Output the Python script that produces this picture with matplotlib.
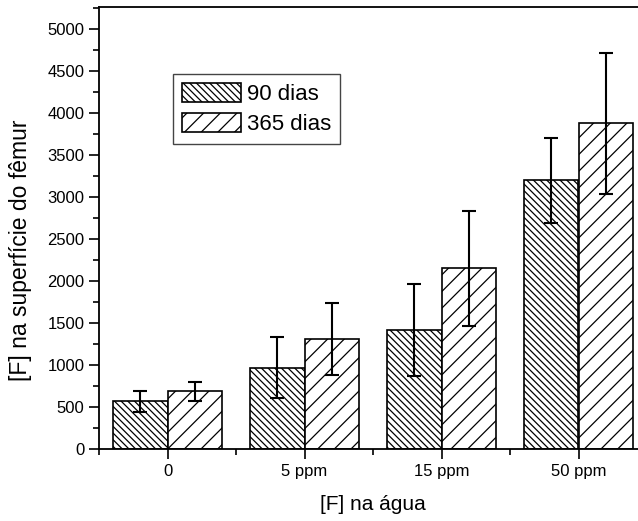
import numpy as np
import matplotlib
matplotlib.use("Agg")
import matplotlib.pyplot as plt
from matplotlib.ticker import MultipleLocator

plt.rcParams['font.family'] = ['Liberation Sans', 'DejaVu Sans']
plt.rcParams['hatch.linewidth'] = 0.9

# data
categories = ['0', '5 ppm', '15 ppm', '50 ppm']
dias90 = [570, 970, 1420, 3200]
dias90_err = [125, 360, 545, 505]
dias365 = [685, 1310, 2150, 3880]
dias365_err = [115, 430, 680, 840]

x = np.arange(len(categories))
w = 0.4

fig = plt.figure(figsize=(6.38, 5.21), dpi=100)
ax = fig.add_axes([99 / 638, 72 / 521, 548 / 638, 442 / 521])

ax.bar(x - w / 2, dias90, w, color='white', edgecolor='black', hatch='\\' * 5,
       linewidth=1.2, label='90 dias')
ax.bar(x + w / 2, dias365, w, color='white', edgecolor='black', hatch='//',
       linewidth=1.2, label='365 dias')
ax.errorbar(x - w / 2, dias90, yerr=dias90_err, fmt='none', ecolor='black',
            elinewidth=1.5, capsize=5, capthick=1.5)
ax.errorbar(x + w / 2, dias365, yerr=dias365_err, fmt='none', ecolor='black',
            elinewidth=1.5, capsize=5, capthick=1.5)

ax.set_xlim(-0.5, 3.5)
ax.set_ylim(0, 5262)
ax.set_xticks(x)
ax.set_xticklabels(categories)
ax.xaxis.set_minor_locator(MultipleLocator(0.5))
ax.yaxis.set_major_locator(MultipleLocator(500))
ax.yaxis.set_minor_locator(MultipleLocator(250))
ax.tick_params(which='major', direction='out', length=7, width=1.2, labelsize=12)
ax.tick_params(which='minor', direction='out', length=4, width=1.2)
for s in ax.spines.values():
    s.set_linewidth(1.3)

ax.set_xlabel('[F] na água', fontsize=15)
ax.xaxis.set_label_coords(0.5, -0.105)
ax.set_ylabel('[F] na superfície do fêmur', fontsize=16.5)
ax.yaxis.set_label_coords(-0.122, 0.45)

leg = ax.legend(loc='upper left', bbox_to_anchor=(173 / 638, 1 - 74 / 521),
                bbox_transform=fig.transFigure, fontsize=16, fancybox=False,
                framealpha=1, edgecolor='#444444', handlelength=2.65,
                handleheight=0.95, handletextpad=0.27, labelspacing=0.35,
                borderpad=0.4, borderaxespad=0)
leg.get_frame().set_linewidth(1.0)

fig.savefig('out.png', dpi=100)
